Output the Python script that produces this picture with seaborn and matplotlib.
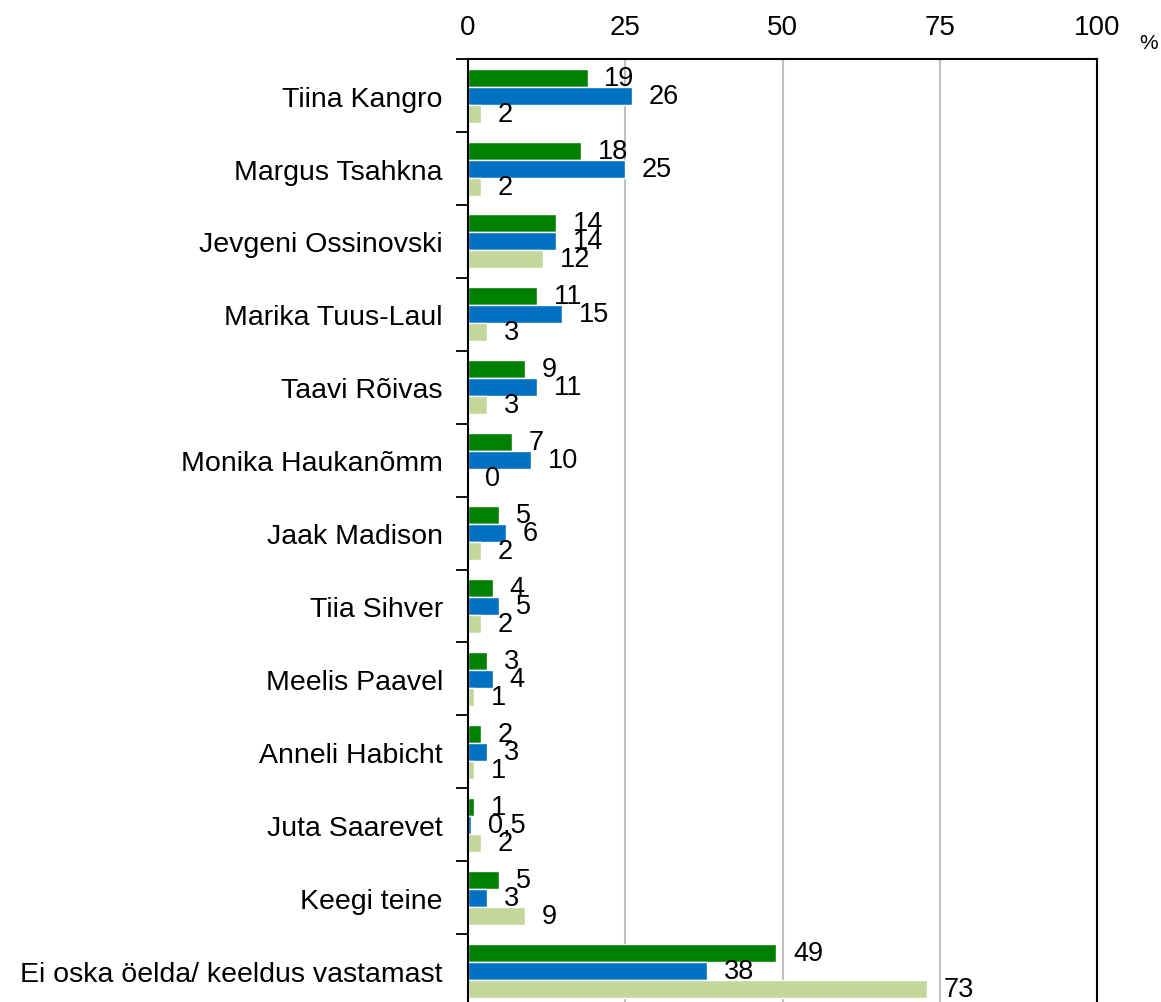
import numpy as np
import pandas as pd
import seaborn as sns
import matplotlib.pyplot as plt

# %% data
names = [
    "Tiina Kangro", "Margus Tsahkna", "Jevgeni Ossinovski", "Marika Tuus-Laul",
    "Taavi Rõivas", "Monika Haukanõmm", "Jaak Madison", "Tiia Sihver",
    "Meelis Paavel", "Anneli Habicht", "Juta Saarevet", "Keegi teine",
    "Ei oska öelda/ keeldus vastamast",
]
green_vals = [19, 18, 14, 11, 9, 7, 5, 4, 3, 2, 1, 5, 49]
blue_vals = [26, 25, 14, 15, 11, 10, 6, 5, 4, 3, 0.5, 3, 38]
light_vals = [2, 2, 12, 3, 3, 0, 2, 2, 1, 1, 2, 9, 73]
series = ["Seeria 1", "Seeria 2", "Seeria 3"]
colors = ["#008000", "#0070C0", "#C4D79B"]
x_ticks = [0, 25, 50, 75, 100]

# %% plot
sns.set_theme(style="white")
plt.rcParams['font.family'] = ['Liberation Sans', 'DejaVu Sans']
plt.rcParams['text.color'] = 'black'

df = pd.DataFrame({
    "nimi": names * 3,
    "protsent": green_vals + blue_vals + light_vals,
    "seeria": np.repeat(series, len(names)),
})

fig = plt.figure(figsize=(11.61, 10.03), dpi=100)
ax = fig.add_axes([0.4031, -0.005, 0.5418, 0.945])
sns.barplot(data=df, x="protsent", y="nimi", hue="seeria", order=names,
            hue_order=series, palette=colors, width=0.74, orient="h",
            saturation=1, legend=False, ax=ax)

ax.set_xlim(0, 100)
ax.set_ylim(len(names) - 0.5, -0.5)
ax.set_xlabel("")
ax.set_ylabel("")

ax.xaxis.tick_top()
ax.set_xticks(x_ticks)
ax.tick_params(axis="x", length=0, pad=14, labelsize=20, labelcolor="black")
ax.xaxis.grid(True, color="#BFBFBF", lw=1.5)
ax.set_axisbelow(True)

ax.tick_params(axis="y", which="major", length=0, pad=18, labelsize=20.5,
               labelcolor="black")
ax.set_yticks(np.arange(-0.5, len(names), 1), minor=True)
ax.tick_params(axis="y", which="minor", length=9, width=1.3, color="black",
               direction="out", left=True)

for s in ax.spines.values():
    s.set_color("black")
    s.set_linewidth(1.5)

def fmt(v):
    return f"{v:g}".replace(".", ",")

for cont, vals in zip(ax.containers, [green_vals, blue_vals, light_vals]):
    ax.bar_label(cont, labels=[fmt(v) for v in vals], padding=12,
                 fontsize=19.5, color="black")

fig.text(0.989, 0.957, "%", fontsize=15, ha="center", va="center")

fig.savefig("out.png", dpi=100)
